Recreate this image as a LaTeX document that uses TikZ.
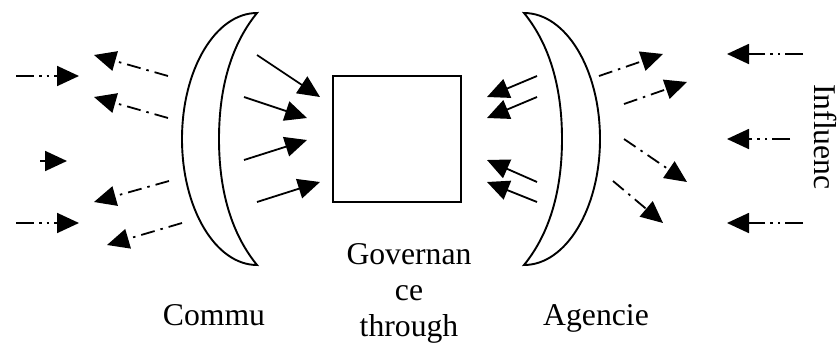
\documentclass[tikz,border=0pt]{standalone}
\usepackage{fontspec}
\setmainfont{Liberation Serif}
\usetikzlibrary{arrows.meta,positioning}

\begin{document}
\begin{tikzpicture}[x=1pt, y=-1pt,
  flecha/.style={-{Triangle[length=22pt,width=20pt]}, line width=1.8pt},
  punteada/.style={flecha, dash pattern=on 14pt off 6pt on 2.5pt off 6pt},
  doble/.style={flecha, dash pattern=on 18pt off 5pt on 2.5pt off 5pt on 2.5pt off 5pt},
  lente/.style={draw, line width=1.9pt, line join=miter},
  rotulo/.style={font=\fontsize{31.7}{36}\selectfont, inner sep=0pt, align=center},
]
  \useasboundingbox (0,0) rectangle (838,343);

  % crescents
  \draw[lente] (257,13) .. controls (215.6,13) and (182,69.4) .. (182,139)
               .. controls (182,208.6) and (215.6,265) .. (257,265)
               .. controls (235,238) and (219,198) .. (219,139)
               .. controls (219,80) and (235,40) .. cycle;
  \draw[lente] (524,13) .. controls (566,13) and (600,69.4) .. (600,139)
               .. controls (600,208.6) and (566,265) .. (524,265)
               .. controls (546,238) and (562,198) .. (562,139)
               .. controls (562,80) and (546,40) .. cycle;

  \node[draw, line width=1.9pt, minimum width=128pt, minimum height=126pt]
    (caja) at (397,139) {};

  % into the box
  \foreach \i/\ax/\ay/\bx/\by in {1/257/55/320/97, 2/244/97/307/118,
      3/244/160/307/140, 4/257/202/320/182, 5/537/76/487/97,
      6/537/97/487/118, 7/537/182/487/160, 8/537/202/487/182} {
    \coordinate (a\i) at (\ax,\ay);
    \coordinate (b\i) at (\bx,\by);
    \draw[flecha] (a\i) -- (b\i);
  }

  % outward
  \foreach \i/\ax/\ay/\bx/\by in {1/168/76/94/55, 2/168/118/94/97,
      3/169/181/94/202, 4/182/223/107/245, 5/599/76/663/54,
      6/624/104/687/82, 7/624/139/687/182, 8/613/181/663/223} {
    \coordinate (c\i) at (\ax,\ay);
    \coordinate (d\i) at (\bx,\by);
    \draw[punteada] (c\i) -- (d\i);
  }

  % from outside
  \foreach \i/\ax/\ay/\bx/\by in {1/16/76/79/76, 2/16/223/79/223,
      3/803/54/727/54, 4/790/139/727/139, 5/803/223/727/223} {
    \coordinate (e\i) at (\ax,\ay);
    \coordinate (f\i) at (\bx,\by);
    \draw[doble] (e\i) -- (f\i);
  }
  \coordinate (e6) at (40,161);
  \coordinate (f6) at (67,161);
  \draw[flecha] (e6) -- (f6);

  \node[rotulo, anchor=base] (comu) at (214,325) {Commu};
  \node[rotulo, anchor=north] (gob) at (409,243) {Governan\\ce\\through};
  \node[rotulo, anchor=base] (agen) at (596,325) {Agencie};
  \node[rotulo, rotate=-90] (infl) at (825,137) {Influenc};
\end{tikzpicture}
\end{document}
